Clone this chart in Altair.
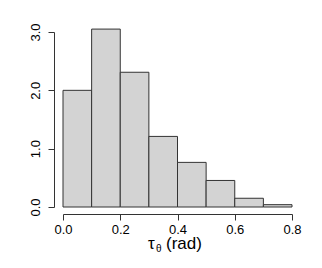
import altair as alt
import pandas as pd

bin_start = [0.0, 0.1, 0.2, 0.3, 0.4, 0.5, 0.6, 0.7]
bin_end = [0.1, 0.2, 0.3, 0.4, 0.5, 0.6, 0.7, 0.8]
density = [2.0, 3.05, 2.31, 1.21, 0.765, 0.455, 0.15, 0.04]
x_ticks = [0.0, 0.2, 0.4, 0.6, 0.8]
y_ticks = [0.0, 1.0, 2.0, 3.0]

df = pd.DataFrame({"start": bin_start, "end": bin_end, "density": density})

FONT = "Liberation Sans"

bars = alt.Chart(df).mark_rect(
    fill="#d3d3d3", stroke="#333333", strokeWidth=1, clip=False
).encode(
    x=alt.X("start:Q",
            scale=alt.Scale(domain=[0, 0.8], nice=False, zero=False),
            axis=alt.Axis(values=x_ticks, format=".1f", title=None, grid=False,
                          offset=7, tickSize=6, labelFontSize=13, labelFont=FONT,
                          labelColor="black", domainColor="#333333", tickColor="#333333",
                          labelPadding=3, labelFlush=False)),
    x2="end:Q",
    y=alt.Y("density:Q",
            scale=alt.Scale(domain=[0, 3.0], nice=False, zero=True),
            axis=alt.Axis(values=y_ticks, format=".1f", title=None, grid=False,
                          offset=9, tickSize=6, labelFontSize=13, labelFont=FONT,
                          labelColor="black", labelAngle=270, labelAlign="center",
                          labelBaseline="bottom", labelPadding=6,
                          domainColor="#333333", tickColor="#333333", labelFlush=False)),
    y2=alt.datum(0),
)

one = pd.DataFrame({"t": ["τ"], "s": ["θ"], "r": ["(rad)"]})
tau = alt.Chart(one).mark_text(
    font=FONT, fontSize=17, align="left", baseline="alphabetic", color="black"
).encode(text="t:N", x=alt.value(85), y=alt.value(217))
theta = alt.Chart(one).mark_text(
    font=FONT, fontSize=10, align="left", baseline="alphabetic", color="black"
).encode(text="s:N", x=alt.value(93), y=alt.value(220))
rad = alt.Chart(one).mark_text(
    font=FONT, fontSize=17, align="left", baseline="alphabetic", color="black"
).encode(text="r:N", x=alt.value(103), y=alt.value(217))

chart = alt.layer(bars, tau, theta, rad).properties(
    width=229, height=175,
    autosize=alt.AutoSizeParams(type="none"),
    padding={"left": 55, "top": 24, "right": 20, "bottom": 50},
).configure(background="white").configure_view(stroke=None)

chart.save("out.html", embed_options={"renderer": "svg", "actions": False})
